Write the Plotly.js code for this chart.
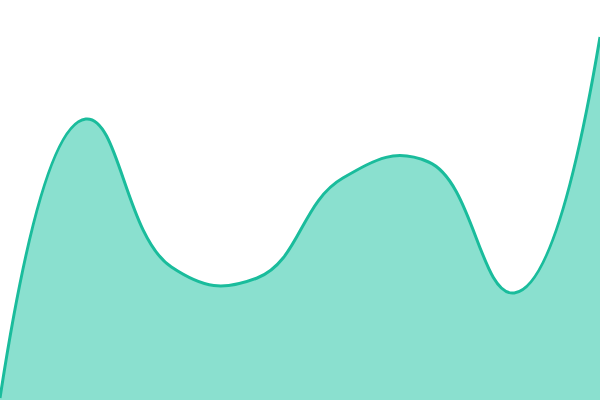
<!DOCTYPE html>
<html>
<head>
<meta charset="utf-8">
<script src="https://cdn.plot.ly/plotly-3.0.1.min.js"></script>
<style>
  html, body { margin: 0; padding: 0; background: #fff; }
  #plot { width: 600px; height: 400px; }
</style>
</head>
<body>
<div id="plot"></div>
<script>
// eight evenly spaced samples
var xs = [0, 1, 2, 3, 4, 5, 6, 7];
var ys = [2, 281, 133, 122, 222, 238, 107, 363];

var trace = {
  x: xs,
  y: ys,
  type: "scatter",
  mode: "lines",
  fill: "tozeroy",
  fillcolor: "#8ae0cf",
  line: { color: "#1abc9c", width: 3, shape: "spline", smoothing: 1.3 },
  hoverinfo: "none"
};

var layout = {
  width: 600,
  height: 400,
  margin: { l: 0, r: 0, t: 0, b: 0 },
  paper_bgcolor: "#fff",
  plot_bgcolor: "#fff",
  showlegend: false,
  xaxis: { range: [0, 7], visible: false, fixedrange: true },
  yaxis: { range: [0, 400], visible: false, fixedrange: true }
};

Plotly.newPlot("plot", [trace], layout, { displayModeBar: false, staticPlot: true });
</script>
</body>
</html>
